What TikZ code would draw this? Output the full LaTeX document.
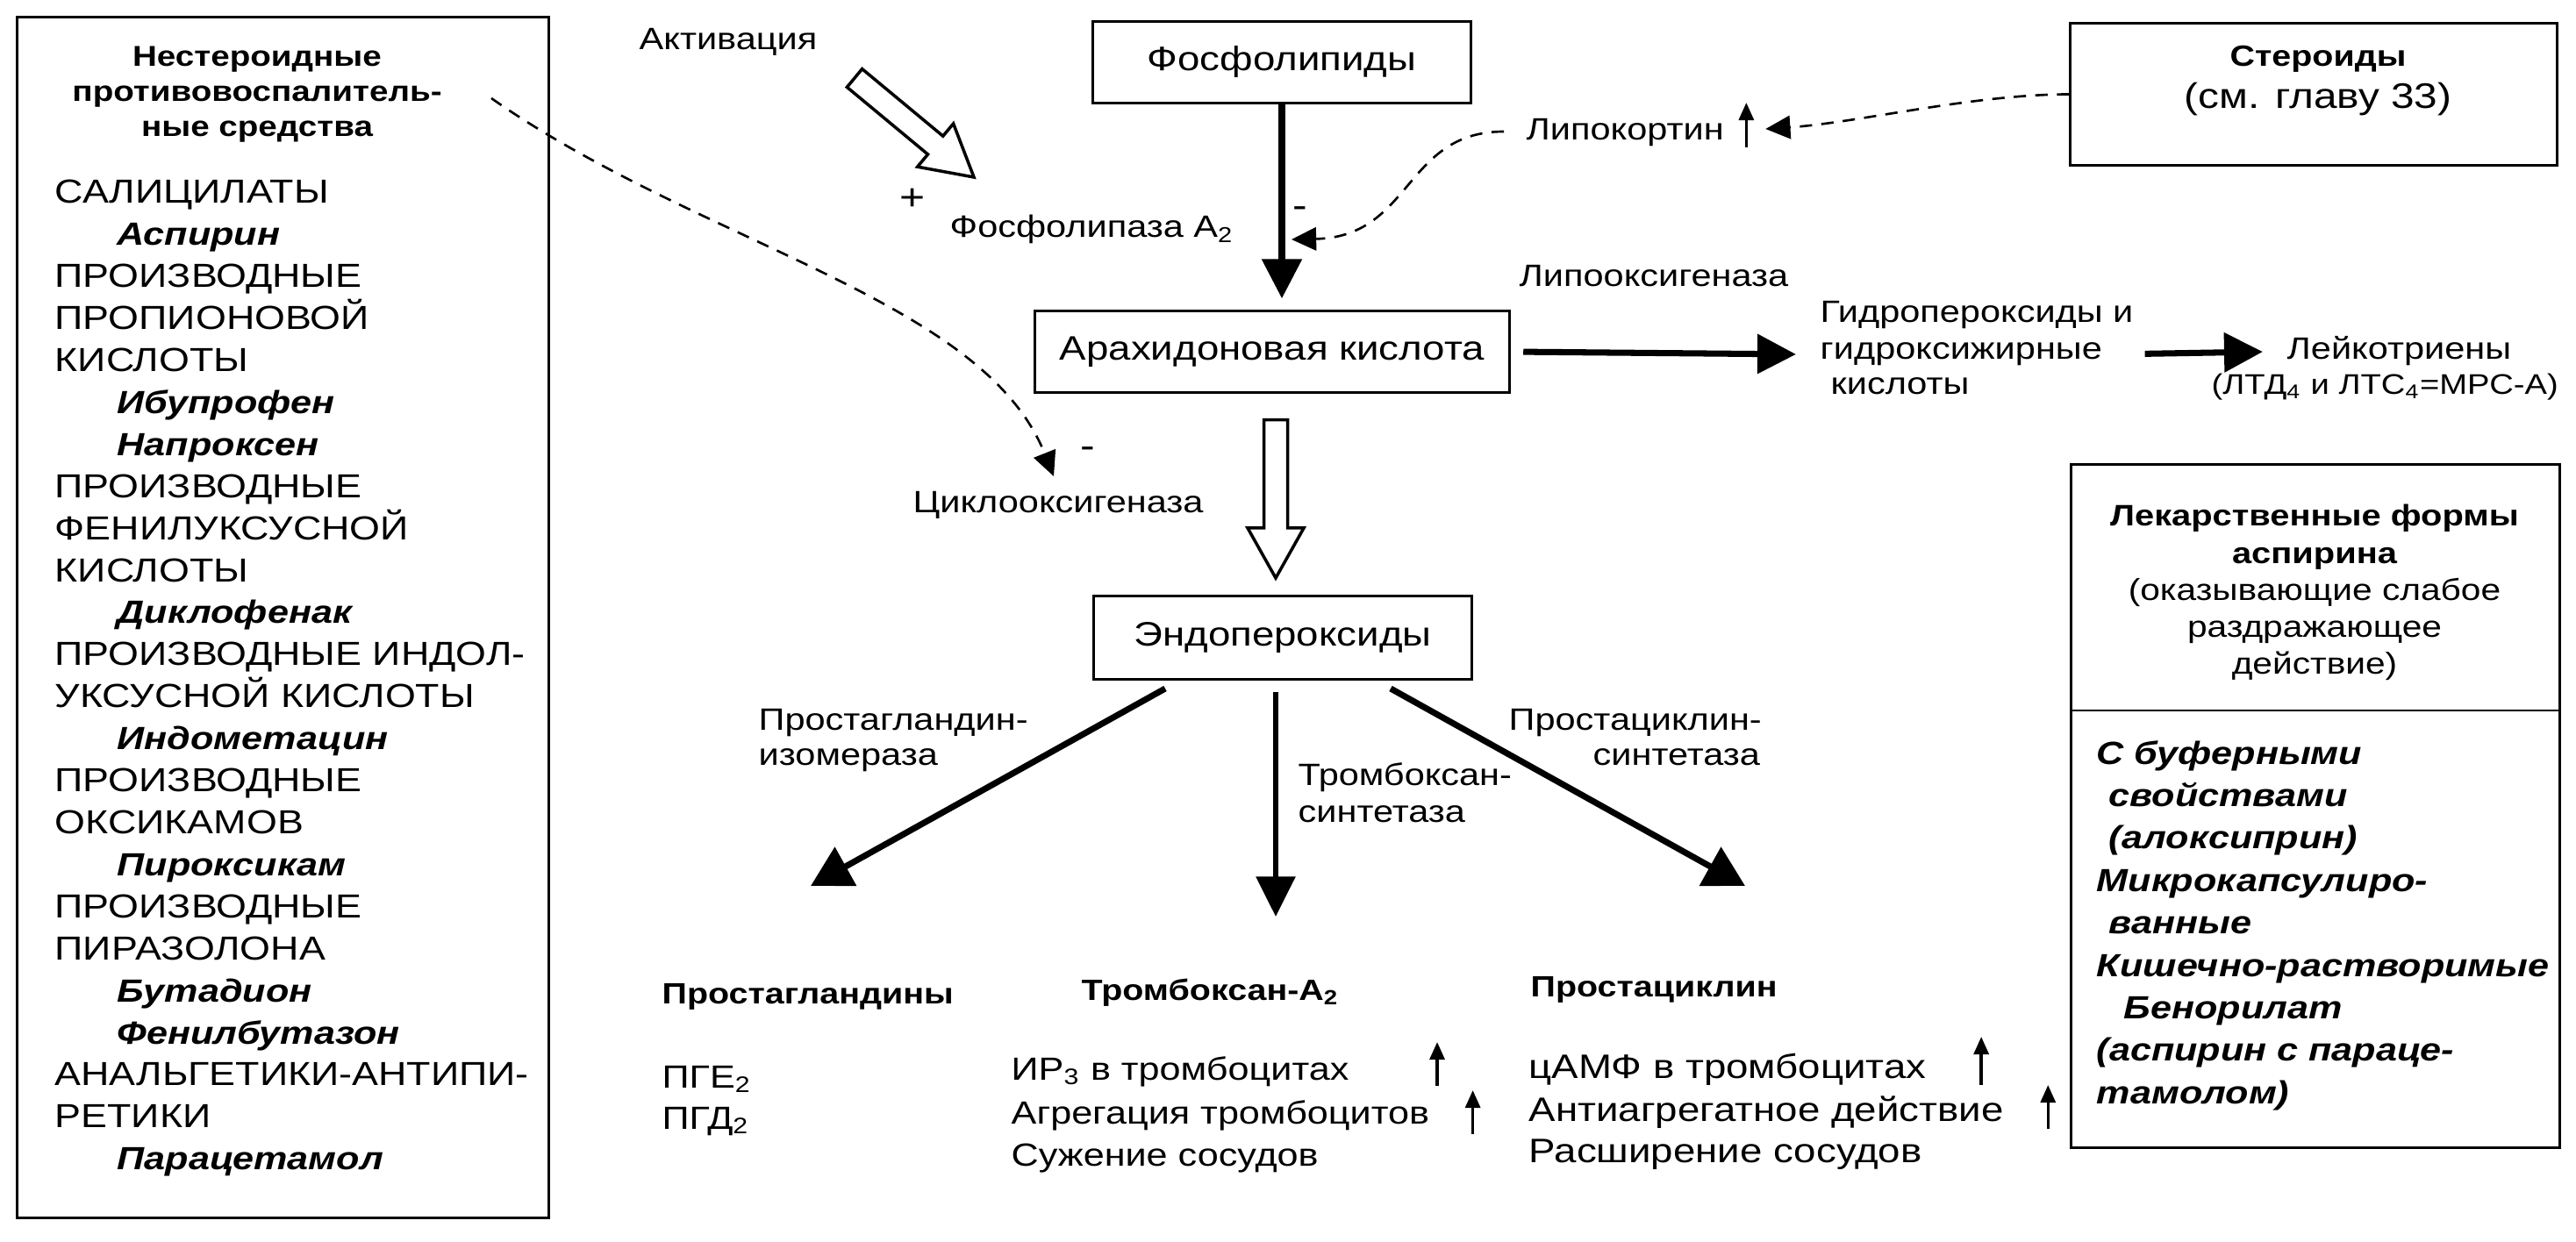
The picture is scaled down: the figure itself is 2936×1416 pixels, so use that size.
\documentclass[tikz,border=0pt]{standalone}
\usepackage{fontspec}
\setmainfont[FakeStretch=1.18]{Liberation Sans}
\usetikzlibrary{arrows.meta,calc}
\tikzset{
  box/.style={draw, line width=0.85pt, inner sep=0pt},
  boxlabel/.style={font=\fontsize{11}{13}\selectfont},
  lab/.style={font=\fontsize{10}{12}\selectfont, inner sep=0pt, anchor=base west},
  txlab/.style={lab, font=\fontsize{10.4}{12}\selectfont},
  pclab/.style={lab, font=\fontsize{11}{13}\selectfont},
  sign/.style={font=\fontsize{12}{14}\selectfont, inner sep=0pt},
  colhead/.style={font=\bfseries\fontsize{9.5}{11}\selectfont, inner sep=0pt, anchor=base west},
  nsaidhead/.style={font=\bfseries\fontsize{9.3}{11}\selectfont, inner sep=0pt, anchor=base},
  drugclass/.style={font=\fontsize{10.8}{12}\selectfont, inner sep=0pt, anchor=base west},
  drugname/.style={font=\bfseries\itshape\fontsize{10.4}{12}\selectfont, inner sep=0pt, anchor=base west, xshift=0.71cm},
  formhead/.style={font=\bfseries\fontsize{9.6}{11}\selectfont, inner sep=0pt, anchor=base},
  formnote/.style={font=\fontsize{9.8}{11}\selectfont, inner sep=0pt, anchor=base},
  formitem/.style={font=\bfseries\itshape\fontsize{10.4}{12}\selectfont, inner sep=0pt, anchor=base west},
  mainarrow/.style={line width=2.4pt, -{Triangle[length=12.8pt,width=12.5pt]}},
  sidearrow/.style={line width=2pt, -{Triangle[length=12.5pt,width=12.5pt]}},
  branch/.style={line width=2pt, -{Triangle[length=13pt,width=14pt]}},
  dasharrow/.style={line width=0.75pt, dash pattern=on 4pt off 3pt, -{Triangle[length=8pt,width=7.5pt]}},
  uparrow/.style={line width=1pt, -{Triangle[length=5.7pt,width=4.8pt]}},
  hollow/.style={draw, line width=1pt, fill=white, line join=miter},
}
% open block arrow from #1 (tail) to #2 (tip)
\newcommand{\hollowarrow}[2]{%
  \coordinate (hb) at ($(#2)!0.57cm!(#1)$);
  \draw[hollow] ($(#1)!0.135cm!-90:(#2)$) -- ($(hb)!0.135cm!-90:(#2)$)
    -- ($(hb)!0.32cm!-90:(#2)$) -- (#2) -- ($(hb)!0.32cm!90:(#2)$)
    -- ($(hb)!0.135cm!90:(#2)$) -- ($(#1)!0.135cm!90:(#2)$) -- cycle;}

\begin{document}
\begin{tikzpicture}[x=0.01cm,y=-0.01cm]
  \useasboundingbox (0,0) rectangle (2936,1416);

  % left box: NSAIDs
  \node[box, minimum width=6.05cm, minimum height=13.68cm] (nsaid) at (322.5,704) {};
  \foreach \txt [count=\i from 0] in {Нестероидные, противовоспалитель-, ные средства}
    \node[nsaidhead] (nsaidhead-\i) at (293,{76+40*\i}) {\txt};
  \foreach \s/\txt [count=\i from 0] in {drugclass/САЛИЦИЛАТЫ, drugname/Аспирин,
      drugclass/ПРОИЗВОДНЫЕ, drugclass/ПРОПИОНОВОЙ, drugclass/КИСЛОТЫ,
      drugname/Ибупрофен, drugname/Напроксен, drugclass/ПРОИЗВОДНЫЕ,
      drugclass/ФЕНИЛУКСУСНОЙ, drugclass/КИСЛОТЫ, drugname/Диклофенак,
      drugclass/ПРОИЗВОДНЫЕ ИНДОЛ-, drugclass/УКСУСНОЙ КИСЛОТЫ, drugname/Индометацин,
      drugclass/ПРОИЗВОДНЫЕ, drugclass/ОКСИКАМОВ, drugname/Пироксикам,
      drugclass/ПРОИЗВОДНЫЕ, drugclass/ПИРАЗОЛОНА, drugname/Бутадион,
      drugname/Фенилбутазон, drugclass/АНАЛЬГЕТИКИ-АНТИПИ-, drugclass/РЕТИКИ,
      drugname/Парацетамол}
    \node[\s] (nsaid-\i) at (62,{232+47.9*\i}) {\txt};

  % main chain
  \node[box, boxlabel, minimum width=4.31cm, minimum height=0.93cm] (phos) at (1461,71) {Фосфолипиды};
  \node[box, boxlabel, minimum width=5.41cm, minimum height=0.92cm] (arach) at (1450,401) {Арахидоновая кислота};
  \node[box, boxlabel, minimum width=4.31cm, minimum height=0.95cm] (endo) at (1462,727) {Эндопероксиды};

  \node[lab] (act) at (728,57) {Активация};
  \coordinate (act-tail) at (974,89);
  \coordinate (act-tip) at (1110,202);
  \hollowarrow{act-tail}{act-tip}
  \node[sign] (plus) at (1040,227) {+};
  \node[lab] (pla2) at (1082,271) {Фосфолипаза A\textsubscript{2}};
  \node[sign] (minus-pla) at (1482,242) {-};
  \draw[mainarrow, shorten >=3.7pt] (phos.south) -- (phos.south |- arach.north);

  % steroids and lipocortin
  \node[box, minimum width=5.54cm, minimum height=1.61cm] (ster) at (2637,107.5) {};
  \node[formhead, font=\bfseries\fontsize{9.5}{11}\selectfont] (ster-title) at (2642,76) {Стероиды};
  \node[formnote, font=\fontsize{11.5}{13}\selectfont] (ster-ref) at (2642,124) {(см. главу 33)};
  \node[lab] (lipo) at (1739,160) {Липокортин};
  \draw[uparrow] ($(lipo.base east)+(25,8)$) -- ++(0,-51);
  \draw[dasharrow] (ster.west) .. controls +(-110,0) and +(105,-7) .. ($(lipo.base east)+(47,-13)$);
  \coordinate (pla-tip) at (1472,273);
  \draw[dasharrow] ($(lipo.base west)+(-25,-10)$) .. controls +(-114,0) and +(138,-3) .. (pla-tip);

  % lipoxygenase branch
  \node[lab] (lox) at (1731,327) {Липооксигеназа};
  \node[lab] (hydro-1) at (2074,368) {Гидропероксиды и};
  \node[lab] (hydro-2) at (2074,410) {гидроксижирные};
  \node[lab] (hydro-3) at (2086,450) {кислоты};
  \node[lab] (leuko) at (2606,410) {Лейкотриены};
  \node[lab, font=\fontsize{9.2}{11}\selectfont] (leuko-sub) at (2520,450) {(ЛТД\textsubscript{4} и ЛТС\textsubscript{4}=МРС-А)};
  \draw[sidearrow, shorten <=4pt, shorten >=7.7pt] (arach.east) -- (hydro-2.west);
  \draw[sidearrow, shorten <=13.7pt, shorten >=7.7pt] (hydro-2.east) -- (leuko.west);

  % cyclooxygenase and NSAID block
  \coordinate (cox-in) at ($(arach.south)+(4,30)$);
  \coordinate (cox-out) at ($(endo.north)+(-8,-19)$);
  \hollowarrow{cox-in}{cox-out}
  \node[lab] (cox) at (1040,585) {Циклооксигеназа};
  \node[sign] (minus-cox) at (1240,516) {-};
  \coordinate (nsaid-out) at (560,112);
  \coordinate (cox-tip) at (1201,543);
  \draw[dasharrow] (nsaid-out) .. controls +(240,168) and +(-81,-203) .. (cox-tip);

  % three branches from endoperoxides
  \coordinate (pg-tip) at (924,1010);
  \coordinate (tx-tip) at (1454,1045);
  \coordinate (pc-tip) at (1989,1010);
  \draw[branch] ($(endo.south)+(-134,9)$) -- (pg-tip);
  \draw[branch, line width=1.8pt, -{Triangle[length=13pt,width=12.5pt]}] ($(endo.south)+(-8,13)$) -- (tx-tip);
  \draw[branch] ($(endo.south)+(123,9)$) -- (pc-tip);
  \node[lab] (pgiso-1) at (864,832) {Простагландин-};
  \node[lab] (pgiso-2) at (864,873) {изомераза};
  \node[lab] (txs-1) at (1479,896) {Тромбоксан-};
  \node[lab] (txs-2) at (1479,937) {синтетаза};
  \node[lab] (pcs-1) at (1719,832) {Простациклин-};
  \node[lab] (pcs-2) at (1815,873) {синтетаза};

  % products
  \node[colhead] (pg-head) at (754,1144) {Простагландины};
  \node[colhead] (tx-head) at (1232,1140) {Тромбоксан-A\textsubscript{2}};
  \node[colhead] (pc-head) at (1744,1136) {Простациклин};
  \node[txlab] (pge) at (754,1240) {ПГЕ\textsubscript{2}};
  \node[txlab] (pgd) at (754,1287) {ПГД\textsubscript{2}};
  \node[txlab] (tx-1) at (1152,1231) {ИР\textsubscript{3} в тромбоцитах};
  \node[txlab] (tx-2) at (1152,1281) {Агрегация тромбоцитов};
  \node[txlab] (tx-3) at (1152,1329) {Сужение сосудов};
  \node[pclab] (pc-1) at (1742,1229) {цАМФ в тромбоцитах};
  \node[pclab] (pc-2) at (1742,1278) {Антиагрегатное действие};
  \node[pclab] (pc-3) at (1742,1325) {Расширение сосудов};
  \draw[uparrow] ($(tx-1.base east)+(100,7)$) -- ++(0,-50);
  \draw[uparrow] ($(tx-2.base east)+(49,12)$) -- ++(0,-50);
  \draw[uparrow] ($(pc-1.base east)+(62,8)$) -- ++(0,-55);
  \draw[uparrow] ($(pc-2.base east)+(50,9)$) -- ++(0,-50);

  % right box: aspirin forms
  \node[box, minimum width=5.56cm, minimum height=7.78cm] (forms) at (2639,919) {};
  \coordinate (forms-split) at (0,810);
  \draw[line width=0.85pt] (forms.west |- forms-split) -- (forms.east |- forms-split);
  \foreach \s/\txt [count=\i from 0] in {formhead/Лекарственные формы, formhead/аспирина,
      formnote/(оказывающие слабое, formnote/раздражающее, formnote/действие)}
    \node[\s] (formhead-\i) at (2638,{600+42.2*\i}) {\txt};
  \foreach \d/\txt [count=\i from 0] in {0/С буферными, 14/свойствами, 14/(алоксиприн),
      0/Микрокапсулиро-, 14/ванные, 0/Кишечно-растворимые, 31/Бенорилат,
      0/(аспирин с параце-, 0/тамолом)}
    \node[formitem] (form-\i) at ({2389+\d},{871+48.4*\i}) {\txt};
\end{tikzpicture}
\end{document}
